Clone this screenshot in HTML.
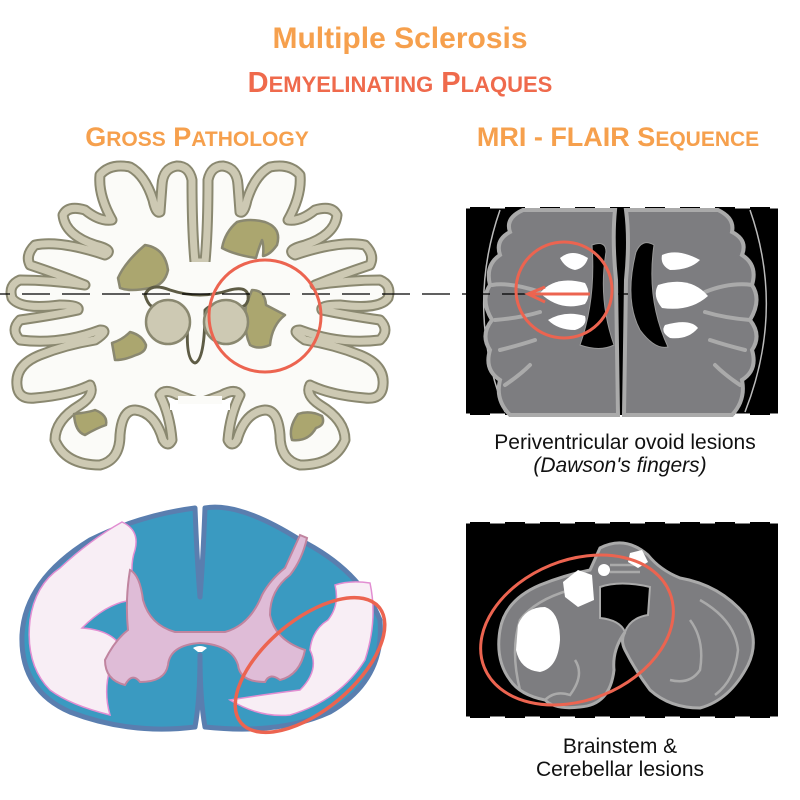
<!DOCTYPE html>
<html><head><style>
html,body{margin:0;padding:0;background:#fff;width:800px;height:800px;overflow:hidden}
svg{display:block}
</style></head><body>
<svg width="800" height="800" viewBox="0 0 800 800" xmlns="http://www.w3.org/2000/svg">
<defs>
<path id="hb" d="M200,262 L195,262 Q192,230 192,180 Q189,166 177,166 Q163,168 162,185 L160,212 Q156,214 153,200 Q145,175 130,167 Q110,163 100,175 Q98,195 112,220 Q100,222 85,210 Q68,205 63,215 Q65,235 95,245 Q115,250 105,255 Q60,240 35,245 Q25,255 30,265 Q60,275 85,285 Q50,280 20,280 Q8,285 12,298 Q20,310 60,305 Q80,305 78,310 Q55,315 20,320 Q10,330 20,340 Q60,345 100,330 Q110,330 95,340 Q65,345 40,355 Q15,365 17,385 Q18,400 35,398 Q70,395 90,385 Q95,395 80,405 Q55,420 55,440 Q65,465 100,465 Q120,460 120,435 Q122,410 135,410 Q155,412 163,440 Q168,448 172,440 Q170,415 160,395 Q165,388 178,395 L200,403"/>
</defs>
<rect width="800" height="800" fill="#fff"/>
<g font-family="Liberation Sans, sans-serif" font-weight="bold" text-anchor="middle">
<text x="400" y="48" font-size="30" fill="#f6a04d">Multiple Sclerosis</text>
<text x="400" y="92" font-size="29" fill="#ef6a4c">D<tspan font-size="22">EMYELINATING</tspan> P<tspan font-size="22">LAQUES</tspan></text>
<text x="197" y="146" font-size="27" fill="#f6a04d">G<tspan font-size="21">ROSS</tspan> P<tspan font-size="21">ATHOLOGY</tspan></text>
<text x="618" y="146" font-size="27" fill="#f6a04d">MRI - FLAIR S<tspan font-size="21">EQUENCE</tspan></text>
</g>

<!-- Coronal brain -->
<g>
<use href="#hb" fill="#fbfbf8"/>
<use href="#hb" fill="#fbfbf8" transform="translate(400,0) scale(-1,1)"/>
<g fill="none" stroke-linejoin="round" stroke-linecap="round">
<use href="#hb" stroke="#8a8870" stroke-width="11"/>
<use href="#hb" stroke="#8a8870" stroke-width="11" transform="translate(400,0) scale(-1,1)"/>
<use href="#hb" stroke="#cdc9b3" stroke-width="7"/>
<use href="#hb" stroke="#cdc9b3" stroke-width="7" transform="translate(400,0) scale(-1,1)"/>
</g>
<rect x="170" y="400" width="60" height="10" fill="#fff"/>
<rect x="178" y="396" width="44" height="8" fill="#fbfbf8"/>
<rect x="186" y="262" width="28" height="10" fill="#fbfbf8"/>
</g>
<g stroke="#8a8870" stroke-width="2.5" stroke-linejoin="round">
<path d="M237 222 Q250 218 265 222 Q282 228 277 245 Q270 255 263 256 Q264 245 262 240 Q258 250 256 258 Q235 255 222 248 Q225 232 237 222Z" fill="#aba66f"/>
<path d="M118 278 Q125 262 145 245 Q165 248 168 270 Q165 285 150 288 Q130 292 120 288Z" fill="#aba66f"/>
<path d="M252 290 Q265 290 266 305 L285 315 Q272 325 270 345 Q258 350 250 345 Q243 330 246 305Z" fill="#aba66f"/>
<path d="M112 343 Q122 340 130 332 Q142 335 146 345 Q146 352 136 355 Q125 360 115 360Z" fill="#aba66f"/>
<path d="M74 414 Q90 412 95 410 Q108 415 106 425 Q97 428 85 435 Q75 432 74 414Z" fill="#aba66f"/>
<path d="M298 414 Q310 410 322 416 Q326 425 316 428 Q308 442 292 440 Q288 428 298 414Z" fill="#aba66f"/>
<path d="M145 295 Q150 282 170 290 Q200 300 230 290 Q250 285 248 300 Q245 310 235 305 Q215 300 205 310 Q205 360 195 363 Q185 360 188 320 Q175 300 160 305 Q150 312 145 295Z" fill="#fbfbf8" stroke="#5e5c45" stroke-width="3"/>
<circle cx="168" cy="322" r="22" fill="#cdc9b3"/>
<circle cx="226" cy="322" r="22" fill="#cdc9b3"/>
</g>

<!-- MRI top -->
<rect x="466" y="207" width="312" height="208" fill="#000"/>
<line x1="455" y1="207" x2="785" y2="207" stroke="#fff" stroke-width="3" stroke-dasharray="15,20"/>
<line x1="455" y1="415" x2="785" y2="415" stroke="#fff" stroke-width="3" stroke-dasharray="15,20"/>
<path d="M500 210 Q465 310 505 412 M750 210 Q785 310 745 412" stroke="#bbb" stroke-width="1.5" fill="none"/>
<g fill="#7d7d80" stroke="#aaa" stroke-width="4">
<path d="M523 210 L615 210 Q612 240 616 280 L618 415 L510 415 Q495 400 500 380 Q484 370 490 350 Q480 335 492 320 Q480 300 490 285 Q485 265 500 255 Q495 240 510 232 Q505 218 523 210Z"/>
<path d="M626 210 L718 210 Q735 218 732 232 Q748 240 742 255 Q758 265 752 285 Q762 300 750 320 Q762 335 752 350 Q758 370 742 380 Q746 400 732 415 L624 415 L626 280 Q630 240 626 210Z"/>
</g>
<g stroke="#aaa" stroke-width="4" fill="none" stroke-linecap="round">
<path d="M492 285 Q510 282 540 292 M495 320 Q520 318 540 312 M500 350 Q520 345 535 340 M505 385 Q520 375 530 365"/>
<path d="M752 285 Q730 282 705 292 M750 320 Q725 318 705 312 M745 350 Q725 345 710 340 M740 385 Q725 375 715 365"/>
</g>
<path d="M592 245 Q606 240 606 252 Q598 300 614 345 Q600 352 580 345 Q596 300 592 245Z" fill="#000" stroke="#999"/>
<path d="M654 245 Q642 238 636 252 Q624 300 640 330 Q655 350 668 347 Q646 300 654 245Z" fill="#000" stroke="#999"/>
<g fill="#fff">
<path d="M560 258 Q572 248 588 258 Q585 268 575 270 Q565 268 560 258Z"/>
<path d="M540 293 Q555 275 585 283 Q592 294 585 304 Q560 312 540 293Z"/>
<path d="M548 320 Q565 310 585 316 Q588 326 575 330 Q558 330 548 320Z"/>
<path d="M662 255 Q678 248 700 260 Q690 270 670 270 Q660 265 662 255Z"/>
<path d="M658 285 Q690 275 708 296 Q690 312 662 308 Q652 296 658 285Z"/>
<path d="M665 325 Q690 318 698 328 Q688 340 670 338 Q660 332 665 325Z"/>
</g>
<line x1="0" y1="294" x2="590" y2="294" stroke="#000" stroke-width="1.3" stroke-dasharray="28,12" stroke-dashoffset="18"/>
<line x1="618" y1="294" x2="628" y2="294" stroke="#000" stroke-width="1.3"/>
<circle cx="265" cy="316" r="56" fill="none" stroke="#ec6450" stroke-width="3"/>
<circle cx="564" cy="290" r="48" fill="none" stroke="#ec6450" stroke-width="3"/>
<path d="M590 294 L528 294 M545 287 L528 294 L545 302" stroke="#ec6450" stroke-width="3" fill="none"/>
<g font-family="Liberation Sans, sans-serif" font-size="21" fill="#111" text-anchor="middle">
<text x="625" y="449">Periventricular ovoid lesions</text>
<text x="620" y="472" font-style="italic">(Dawson's fingers)</text>
<text x="620" y="753">Brainstem &amp;</text>
<text x="620" y="776">Cerebellar lesions</text>
</g>

<!-- MRI bottom -->
<rect x="466" y="522" width="312" height="196" fill="#000"/>
<line x1="455" y1="522" x2="785" y2="522" stroke="#fff" stroke-width="3" stroke-dasharray="15,20"/>
<line x1="455" y1="718" x2="785" y2="718" stroke="#fff" stroke-width="3" stroke-dasharray="15,20"/>
<path d="M600 548 Q625 535 648 555 Q660 570 680 578 Q720 585 745 615 Q760 640 748 665 Q730 700 700 708 Q670 708 650 690 Q635 670 625 650 Q620 640 625 632 Q612 650 614 670 Q610 705 580 707 Q555 710 545 700 Q520 695 510 680 Q495 660 500 630 Q505 600 540 585 Q565 575 590 570Z" fill="#7d7d80" stroke="#aaa" stroke-width="3"/>
<g stroke="#aaa" stroke-width="2.5" fill="none">
<path d="M520 690 Q510 650 520 620 Q535 600 570 590 M545 700 Q555 690 570 695 Q585 675 575 660"/>
<path d="M700 600 Q735 620 738 650 Q735 680 715 695 M690 620 Q705 640 700 670 Q690 685 670 680"/>
<path d="M610 565 L640 565 M610 572 L640 572"/>
</g>
<path d="M600 587 Q620 580 650 587 L648 615 Q630 618 625 632 Q620 620 600 618Z" fill="#000" stroke="#aaa" stroke-width="2"/>
<path d="M518 625 Q525 607 545 607 Q560 612 560 640 Q558 668 540 672 Q520 670 516 650Z" fill="#fff"/>
<path d="M563 582 L578 570 L592 575 L594 600 L578 607 L565 597Z" fill="#fff"/>
<circle cx="604" cy="570" r="6" fill="#fff"/>
<path d="M630 553 L642 550 L648 562 L638 568 L628 562Z" fill="#fff"/>
<ellipse cx="577" cy="630" rx="100" ry="70" transform="rotate(-22 577 630)" fill="none" stroke="#ec6450" stroke-width="3"/>

<!-- Spinal cord -->
<path d="M195 508 Q197 560 200 597 Q203 560 205 508 Q240 502 300 540 Q360 570 380 620 Q385 680 330 712 Q280 735 205 727 Q200 700 200 655 Q200 700 195 727 Q130 735 70 712 Q20 690 22 635 Q25 580 90 540 Q140 515 195 508Z" fill="#3a9ac1" stroke="#5a7eaf" stroke-width="5" stroke-linejoin="round"/>
<path d="M122 522 Q140 530 135 550 Q128 570 137 600 Q110 600 82 628 Q110 630 120 645 Q100 680 110 715 Q70 705 50 690 Q25 665 30 620 Q35 585 60 568 Q90 540 122 522Z" fill="#f8eef5" stroke="#e28ed2" stroke-width="1.5"/>
<path d="M130 570 Q140 575 143 600 Q150 625 175 632 L225 632 Q250 625 262 595 Q270 580 285 568 L300 535 L307 538 Q302 560 290 575 Q270 590 270 615 Q275 640 305 650 Q300 675 280 680 Q270 672 265 682 Q240 682 238 665 Q232 645 200 643 Q170 645 168 665 Q165 682 140 682 Q132 672 125 685 Q105 680 105 660 Q115 640 128 630 Q125 600 130 570Z" fill="#dfbcd7" stroke="#c0849f" stroke-width="2"/>
<path d="M193 648 Q200 644 207 648 L202 652 L198 652Z" fill="#fff"/>
<path d="M335 585 Q350 580 370 583 Q378 620 365 660 Q340 700 290 715 Q260 718 230 700 Q260 695 300 690 Q320 670 310 650 Q312 630 328 620 Q340 605 335 585Z" fill="#f8eef5" stroke="#e28ed2" stroke-width="1.5"/>
<ellipse cx="310" cy="665" rx="90" ry="45" transform="rotate(-40 310 665)" fill="none" stroke="#ec6450" stroke-width="3.5"/>
</svg>
</body></html>
